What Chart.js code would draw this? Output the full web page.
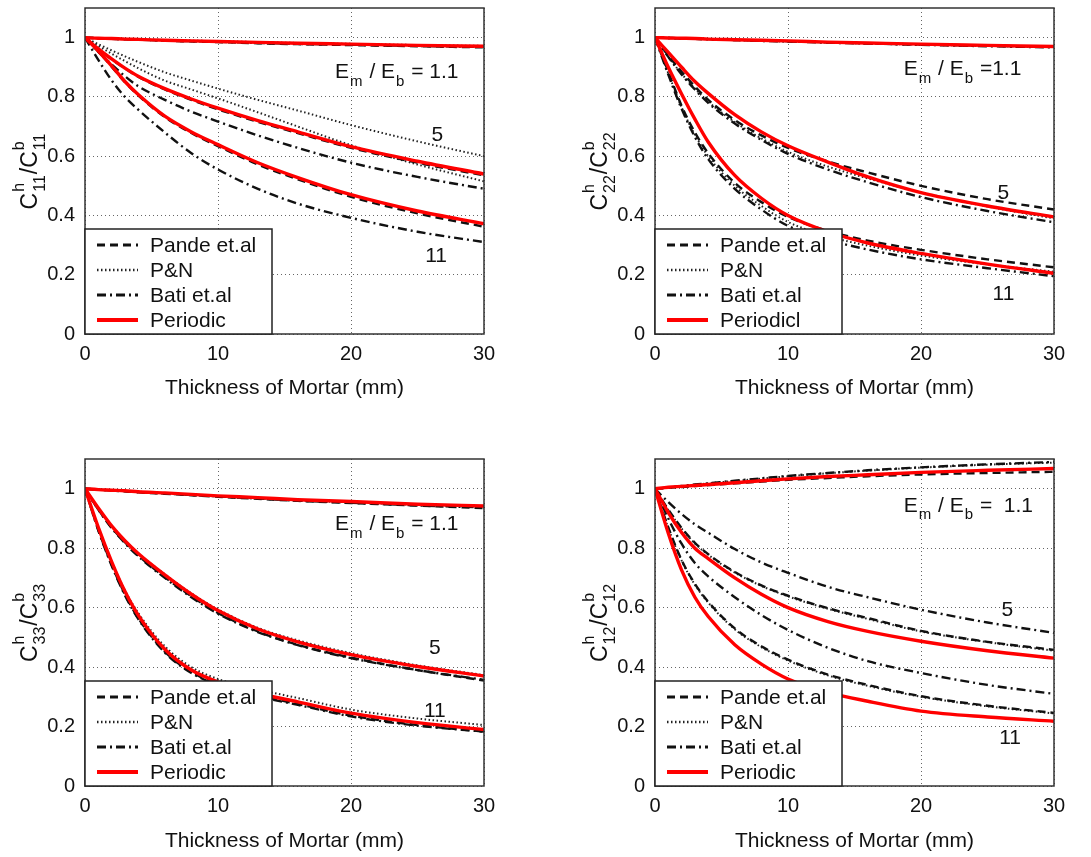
<!DOCTYPE html>
<html>
<head>
<meta charset="utf-8">
<script src="https://cdn.jsdelivr.net/npm/chart.js@4.4.1/dist/chart.umd.min.js"></script>
<style>
  html, body { margin: 0; padding: 0; background: #fff; }
  #wrap { position: relative; width: 1091px; height: 857px; overflow: hidden; }
  #wrap canvas { position: absolute; }
</style>
</head>
<body>
<div id="wrap">
  <canvas id="c11"></canvas>
  <canvas id="c22"></canvas>
  <canvas id="c33"></canvas>
  <canvas id="c12"></canvas>
</div>
<script>
const FONT = '"Liberation Sans", Arial, sans-serif'
const INK = '#111'

const THICKNESS = [0, 1, 2, 3, 4, 6, 8, 10, 13, 16, 20, 25, 30]
const X_TICKS = [0, 10, 20, 30]
const Y_TICKS = [0, 0.2, 0.4, 0.6, 0.8, 1]
const Y_TICK_LABELS = ['0', '0.2', '0.4', '0.6', '0.8', '1']
const X_TITLE = 'Thickness of Mortar (mm)'

// C11, Em/Eb = 1.1, 5, 11
const C11_PANDE_1 = [1, 0.998, 0.996, 0.994, 0.993, 0.99, 0.987, 0.985, 0.981, 0.978, 0.975, 0.971, 0.967]
const C11_PN_1 = [1, 0.998, 0.997, 0.996, 0.995, 0.992, 0.99, 0.988, 0.985, 0.982, 0.979, 0.975, 0.972]
const C11_BATI_1 = [1, 0.998, 0.996, 0.995, 0.993, 0.99, 0.988, 0.986, 0.982, 0.979, 0.976, 0.972, 0.969]
const C11_PER_1 = [1, 0.998, 0.997, 0.995, 0.994, 0.991, 0.989, 0.987, 0.984, 0.981, 0.978, 0.974, 0.971]
const C11_PANDE_5 = [1, 0.962, 0.927, 0.896, 0.868, 0.825, 0.79, 0.758, 0.716, 0.678, 0.628, 0.578, 0.535]
const C11_PN_5 = [1, 0.978, 0.957, 0.937, 0.918, 0.883, 0.855, 0.828, 0.79, 0.754, 0.705, 0.65, 0.6]
const C11_BATI_5 = [1, 0.952, 0.91, 0.87, 0.836, 0.79, 0.75, 0.717, 0.67, 0.628, 0.578, 0.53, 0.49]
const C11_PER_5 = [1, 0.962, 0.928, 0.897, 0.87, 0.828, 0.793, 0.762, 0.72, 0.682, 0.632, 0.583, 0.54]
const C11_PANDE_11 = [1, 0.953, 0.902, 0.85, 0.805, 0.732, 0.678, 0.634, 0.572, 0.522, 0.463, 0.407, 0.362]
const C11_PN_11 = [1, 0.972, 0.946, 0.921, 0.897, 0.855, 0.825, 0.795, 0.748, 0.7, 0.637, 0.572, 0.515]
const C11_BATI_11 = [1, 0.925, 0.856, 0.8, 0.757, 0.68, 0.61, 0.555, 0.49, 0.44, 0.392, 0.345, 0.31]
const C11_PER_11 = [1, 0.955, 0.905, 0.852, 0.808, 0.735, 0.682, 0.639, 0.578, 0.528, 0.47, 0.415, 0.372]

// C22
const C22_PANDE_1 = [1, 0.999, 0.998, 0.996, 0.995, 0.992, 0.99, 0.988, 0.984, 0.981, 0.977, 0.973, 0.969]
const C22_PN_1 = [1, 0.999, 0.997, 0.996, 0.995, 0.992, 0.99, 0.987, 0.984, 0.98, 0.976, 0.972, 0.968]
const C22_BATI_1 = [1, 0.999, 0.997, 0.996, 0.994, 0.992, 0.989, 0.987, 0.983, 0.98, 0.976, 0.971, 0.967]
const C22_PER_1 = [1, 0.999, 0.998, 0.997, 0.995, 0.993, 0.991, 0.989, 0.985, 0.982, 0.978, 0.974, 0.97]
const C22_PANDE_5 = [1, 0.94, 0.885, 0.835, 0.79, 0.722, 0.67, 0.628, 0.582, 0.545, 0.5, 0.455, 0.42]
const C22_PN_5 = [1, 0.935, 0.878, 0.828, 0.784, 0.715, 0.66, 0.615, 0.565, 0.525, 0.478, 0.43, 0.39]
const C22_BATI_5 = [1, 0.935, 0.876, 0.825, 0.78, 0.71, 0.655, 0.608, 0.555, 0.512, 0.462, 0.415, 0.377]
const C22_PER_5 = [1, 0.95, 0.9, 0.852, 0.812, 0.74, 0.682, 0.635, 0.58, 0.53, 0.477, 0.432, 0.395]
const C22_PANDE_11 = [1, 0.885, 0.77, 0.68, 0.61, 0.51, 0.445, 0.395, 0.348, 0.315, 0.284, 0.252, 0.225]
const C22_PN_11 = [1, 0.88, 0.765, 0.672, 0.6, 0.5, 0.432, 0.378, 0.33, 0.298, 0.265, 0.235, 0.21]
const C22_BATI_11 = [1, 0.875, 0.76, 0.665, 0.59, 0.49, 0.42, 0.365, 0.318, 0.285, 0.252, 0.222, 0.195]
const C22_PER_11 = [1, 0.9, 0.81, 0.725, 0.648, 0.535, 0.458, 0.4, 0.345, 0.307, 0.272, 0.236, 0.205]

// C33
const C33_PANDE_1 = [1, 0.997, 0.994, 0.991, 0.988, 0.983, 0.978, 0.973, 0.966, 0.959, 0.952, 0.943, 0.935]
const C33_PN_1 = [1, 0.997, 0.995, 0.992, 0.99, 0.985, 0.98, 0.975, 0.968, 0.961, 0.954, 0.946, 0.94]
const C33_BATI_1 = [1, 0.997, 0.994, 0.992, 0.989, 0.984, 0.979, 0.974, 0.967, 0.96, 0.953, 0.944, 0.937]
const C33_PER_1 = [1, 0.997, 0.995, 0.993, 0.99, 0.986, 0.981, 0.976, 0.97, 0.963, 0.957, 0.948, 0.942]
const C33_PANDE_5 = [1, 0.93, 0.87, 0.82, 0.776, 0.703, 0.638, 0.582, 0.52, 0.475, 0.432, 0.39, 0.355]
const C33_PN_5 = [1, 0.935, 0.876, 0.826, 0.783, 0.712, 0.648, 0.594, 0.532, 0.49, 0.447, 0.406, 0.373]
const C33_BATI_5 = [1, 0.93, 0.868, 0.817, 0.773, 0.7, 0.635, 0.58, 0.518, 0.474, 0.43, 0.39, 0.357]
const C33_PER_5 = [1, 0.935, 0.875, 0.825, 0.782, 0.71, 0.645, 0.59, 0.528, 0.485, 0.442, 0.402, 0.37]
const C33_PANDE_11 = [1, 0.862, 0.745, 0.645, 0.565, 0.452, 0.383, 0.343, 0.305, 0.276, 0.237, 0.205, 0.183]
const C33_PN_11 = [1, 0.868, 0.755, 0.658, 0.582, 0.47, 0.4, 0.36, 0.325, 0.296, 0.257, 0.227, 0.205]
const C33_BATI_11 = [1, 0.86, 0.742, 0.642, 0.562, 0.449, 0.38, 0.34, 0.302, 0.273, 0.234, 0.203, 0.183]
const C33_PER_11 = [1, 0.87, 0.755, 0.655, 0.575, 0.46, 0.39, 0.35, 0.312, 0.283, 0.245, 0.213, 0.19]

// C12
const C12_PANDE_1 = [1, 1.003, 1.006, 1.009, 1.012, 1.018, 1.024, 1.03, 1.036, 1.042, 1.048, 1.053, 1.057]
const C12_PN_1 = [1, 1.004, 1.009, 1.013, 1.018, 1.026, 1.034, 1.042, 1.052, 1.061, 1.071, 1.081, 1.088]
const C12_BATI_1 = [1, 1.004, 1.009, 1.014, 1.018, 1.027, 1.035, 1.043, 1.053, 1.062, 1.072, 1.082, 1.09]
const C12_PER_1 = [1, 1.005, 1.008, 1.011, 1.014, 1.02, 1.027, 1.033, 1.041, 1.047, 1.055, 1.062, 1.068]
const C12_PANDE_5 = [1, 0.93, 0.868, 0.818, 0.78, 0.72, 0.675, 0.64, 0.598, 0.565, 0.522, 0.485, 0.458]
const C12_PN_5 = [1, 0.928, 0.866, 0.816, 0.778, 0.718, 0.673, 0.638, 0.596, 0.562, 0.52, 0.484, 0.455]
const C12_BATI_5 = [1, 0.955, 0.915, 0.88, 0.852, 0.797, 0.752, 0.717, 0.67, 0.635, 0.593, 0.55, 0.515]
const C12_PER_5 = [1, 0.92, 0.853, 0.8, 0.765, 0.7, 0.645, 0.6, 0.553, 0.52, 0.487, 0.455, 0.43]
const C12_PANDE_11 = [1, 0.87, 0.76, 0.68, 0.62, 0.53, 0.47, 0.425, 0.375, 0.34, 0.302, 0.27, 0.246]
const C12_PN_11 = [1, 0.868, 0.758, 0.677, 0.617, 0.527, 0.467, 0.422, 0.372, 0.337, 0.3, 0.268, 0.244]
const C12_BATI_11 = [1, 0.9, 0.815, 0.75, 0.705, 0.635, 0.575, 0.525, 0.465, 0.42, 0.38, 0.34, 0.31]
const C12_PER_11 = [1, 0.85, 0.726, 0.635, 0.57, 0.475, 0.41, 0.36, 0.315, 0.285, 0.252, 0.232, 0.218]

const STYLE = {
  pande: { color: '#111', width: 2.4, dash: [8, 5] },
  pn: { color: '#222', width: 2, dash: [1.5, 2.5] },
  bati: { color: '#111', width: 2.4, dash: [9, 4, 2, 4] },
  periodic: { color: '#ff0000', width: 3.4, dash: [] },
}
const LEGEND_ORDER = ['pande', 'pn', 'bati', 'periodic']

const PANELS = [
  {
    id: 'c11', canvas: [0, 0, 546, 428], area: [85, 8, 484, 334], xTitleY: 388, sub: '11',
    legend: ['Pande et.al', 'P&N', 'Bati et.al', 'Periodic'],
    ratio: ' = 1.1', ratioAt: [18.8, 0.864], at5: [26.5, 0.672], at11: [26.4, 0.261],
    series: {
      pande: [C11_PANDE_1, C11_PANDE_5, C11_PANDE_11], pn: [C11_PN_1, C11_PN_5, C11_PN_11],
      bati: [C11_BATI_1, C11_BATI_5, C11_BATI_11], periodic: [C11_PER_1, C11_PER_5, C11_PER_11],
    },
  },
  {
    id: 'c22', canvas: [545, 0, 546, 428], area: [655, 8, 1054, 334], xTitleY: 388, sub: '22',
    legend: ['Pande et.al', 'P&N', 'Bati et.al', 'Periodicl'],
    ratio: ' =1.1', ratioAt: [18.7, 0.874], at5: [26.2, 0.476], at11: [26.2, 0.133],
    series: {
      pande: [C22_PANDE_1, C22_PANDE_5, C22_PANDE_11], pn: [C22_PN_1, C22_PN_5, C22_PN_11],
      bati: [C22_BATI_1, C22_BATI_5, C22_BATI_11], periodic: [C22_PER_1, C22_PER_5, C22_PER_11],
    },
  },
  {
    id: 'c33', canvas: [0, 429, 546, 428], area: [85, 459, 484, 786], xTitleY: 841, sub: '33',
    legend: ['Pande et.al', 'P&N', 'Bati et.al', 'Periodic'],
    ratio: ' = 1.1', ratioAt: [18.8, 0.861], at5: [26.3, 0.464], at11: [26.3, 0.253],
    series: {
      pande: [C33_PANDE_1, C33_PANDE_5, C33_PANDE_11], pn: [C33_PN_1, C33_PN_5, C33_PN_11],
      bati: [C33_BATI_1, C33_BATI_5, C33_BATI_11], periodic: [C33_PER_1, C33_PER_5, C33_PER_11],
    },
  },
  {
    id: 'c12', canvas: [545, 429, 546, 428], area: [655, 459, 1054, 786], xTitleY: 841, sub: '12',
    legend: ['Pande et.al', 'P&N', 'Bati et.al', 'Periodic'],
    ratio: ' =  1.1', ratioAt: [18.7, 0.923], at5: [26.5, 0.592], at11: [26.7, 0.162],
    series: {
      pande: [C12_PANDE_1, C12_PANDE_5, C12_PANDE_11], pn: [C12_PN_1, C12_PN_5, C12_PN_11],
      bati: [C12_BATI_1, C12_BATI_5, C12_BATI_11], periodic: [C12_PER_1, C12_PER_5, C12_PER_11],
    },
  },
]

/** Text with MATLAB-like stacked super/subscripts. Returns the width. */
function drawRich(ctx, parts, x0, y0, size, small, dry) {
  let x = x0
  for (const part of parts) {
    if (part.t) {
      ctx.font = `${size}px ${FONT}`
      if (!dry) ctx.fillText(part.t, x, y0)
      x += ctx.measureText(part.t).width
    }
    if (part.sup || part.sub) {
      ctx.font = `${small}px ${FONT}`
      let w = 0
      if (part.sup) {
        if (!dry) ctx.fillText(part.sup, x + 1, y0 - size * 0.58)
        w = Math.max(w, ctx.measureText(part.sup).width)
      }
      if (part.sub) {
        if (!dry) ctx.fillText(part.sub, x + 1, y0 + size * 0.36)
        w = Math.max(w, ctx.measureText(part.sub).width)
      }
      x += w + 2
    }
  }
  return x - x0
}

const decor = {
  id: 'decor',
  afterDatasetsDraw(chart, args, opts) {
    const { ctx, chartArea: a, scales: { x, y } } = chart
    const p = opts.panel
    ctx.save()
    ctx.setLineDash([])
    ctx.strokeStyle = '#333'
    ctx.lineWidth = 1.5
    ctx.strokeRect(a.left, a.top, a.right - a.left, a.bottom - a.top)

    ctx.fillStyle = INK
    ctx.font = `21px ${FONT}`
    ctx.textAlign = 'center'
    ctx.textBaseline = 'middle'
    ctx.fillText('5', x.getPixelForValue(p.at5[0]), y.getPixelForValue(p.at5[1]))
    ctx.fillText('11', x.getPixelForValue(p.at11[0]), y.getPixelForValue(p.at11[1]))

    ctx.textAlign = 'left'
    ctx.textBaseline = 'alphabetic'
    drawRich(ctx, [{ t: 'E', sub: 'm' }, { t: ' / E', sub: 'b' }, { t: p.ratio }],
      x.getPixelForValue(p.ratioAt[0]), y.getPixelForValue(p.ratioAt[1]), 21, 15)

    // legend box, lower left corner of the axes
    const lw = 187, lh = 105
    const lx = a.left, ly = a.bottom - lh
    ctx.fillStyle = '#fff'
    ctx.fillRect(lx, ly, lw, lh)
    ctx.strokeStyle = '#222'
    ctx.lineWidth = 1.5
    ctx.strokeRect(lx, ly, lw, lh)
    LEGEND_ORDER.forEach((key, i) => {
      const s = STYLE[key]
      const ry = ly + 16 + i * 25
      ctx.beginPath()
      ctx.setLineDash(s.dash)
      ctx.strokeStyle = s.color
      ctx.lineWidth = s.width + 0.4
      ctx.moveTo(lx + 12, ry)
      ctx.lineTo(lx + 53, ry)
      ctx.stroke()
      ctx.setLineDash([])
      ctx.fillStyle = INK
      ctx.font = `21px ${FONT}`
      ctx.textBaseline = 'middle'
      ctx.fillText(p.legend[i], lx + 65, ry + 1)
    })

    // rotated y title
    const title = [{ t: 'C', sup: 'h', sub: p.sub }, { t: '/C', sup: 'b', sub: p.sub }]
    ctx.textBaseline = 'alphabetic'
    const w = drawRich(ctx, title, 0, 0, 23, 16, true)
    ctx.translate(a.left - 55, (a.top + a.bottom) / 2)
    ctx.rotate(-Math.PI / 2)
    ctx.fillStyle = INK
    drawRich(ctx, title, -w / 2, 7, 23, 16)
    ctx.restore()
  },
}

function buildDatasets(p) {
  const out = []
  for (const key of ['periodic', 'pande', 'bati', 'pn']) {
    const s = STYLE[key]
    p.series[key].forEach(values => {
      out.push({
        data: THICKNESS.map((t, i) => ({ x: t, y: values[i] })),
        borderColor: s.color,
        borderWidth: s.width,
        borderDash: s.dash,
        pointRadius: 0,
        fill: false,
        cubicInterpolationMode: 'monotone',
      })
    })
  }
  return out
}

for (const p of PANELS) {
  const [cl, ct, cw, chh] = p.canvas
  const [al, at, ar, ab] = p.area
  const canvas = document.getElementById(p.id)
  canvas.width = cw
  canvas.height = chh
  canvas.style.left = cl + 'px'
  canvas.style.top = ct + 'px'
  canvas.style.width = cw + 'px'
  canvas.style.height = chh + 'px'

  const xHeight = ct + chh - ab
  const titleOffset = ct + chh - p.xTitleY
  const titleLine = 21 * 1.2

  new Chart(canvas, {
    type: 'line',
    data: { datasets: buildDatasets(p) },
    plugins: [decor],
    options: {
      responsive: false,
      animation: false,
      events: [],
      layout: { padding: { left: 0, top: at - ct, right: cl + cw - ar, bottom: 0 } },
      plugins: {
        legend: { display: false },
        tooltip: { enabled: false },
        decor: { panel: p },
      },
      scales: {
        x: {
          type: 'linear',
          min: 0,
          max: 30,
          afterBuildTicks: s => { s.ticks = X_TICKS.map(v => ({ value: v })) },
          afterFit: s => { s.height = xHeight; s.paddingLeft = 0; s.paddingRight = 0 },
          grid: { color: 'rgba(0,0,0,0.6)', lineWidth: 1, drawTicks: false },
          border: { display: false, dash: [1, 3] },
          ticks: { color: INK, padding: 8, font: { family: FONT, size: 20 }, maxRotation: 0 },
          title: {
            display: true,
            text: X_TITLE,
            color: INK,
            font: { family: FONT, size: 21 },
            padding: { top: 0, bottom: titleOffset - titleLine / 2 },
          },
        },
        y: {
          type: 'linear',
          min: 0,
          max: 1.1,
          afterBuildTicks: s => { s.ticks = Y_TICKS.map(v => ({ value: v })) },
          afterFit: s => { s.width = al - cl; s.paddingTop = 0; s.paddingBottom = 0 },
          grid: { color: 'rgba(0,0,0,0.6)', lineWidth: 1, drawTicks: false },
          border: { display: false, dash: [1, 3] },
          ticks: {
            color: INK,
            padding: 10,
            font: { family: FONT, size: 20 },
            callback: (v, i) => Y_TICK_LABELS[i],
          },
        },
      },
    },
  })
}
</script>
</body>
</html>
